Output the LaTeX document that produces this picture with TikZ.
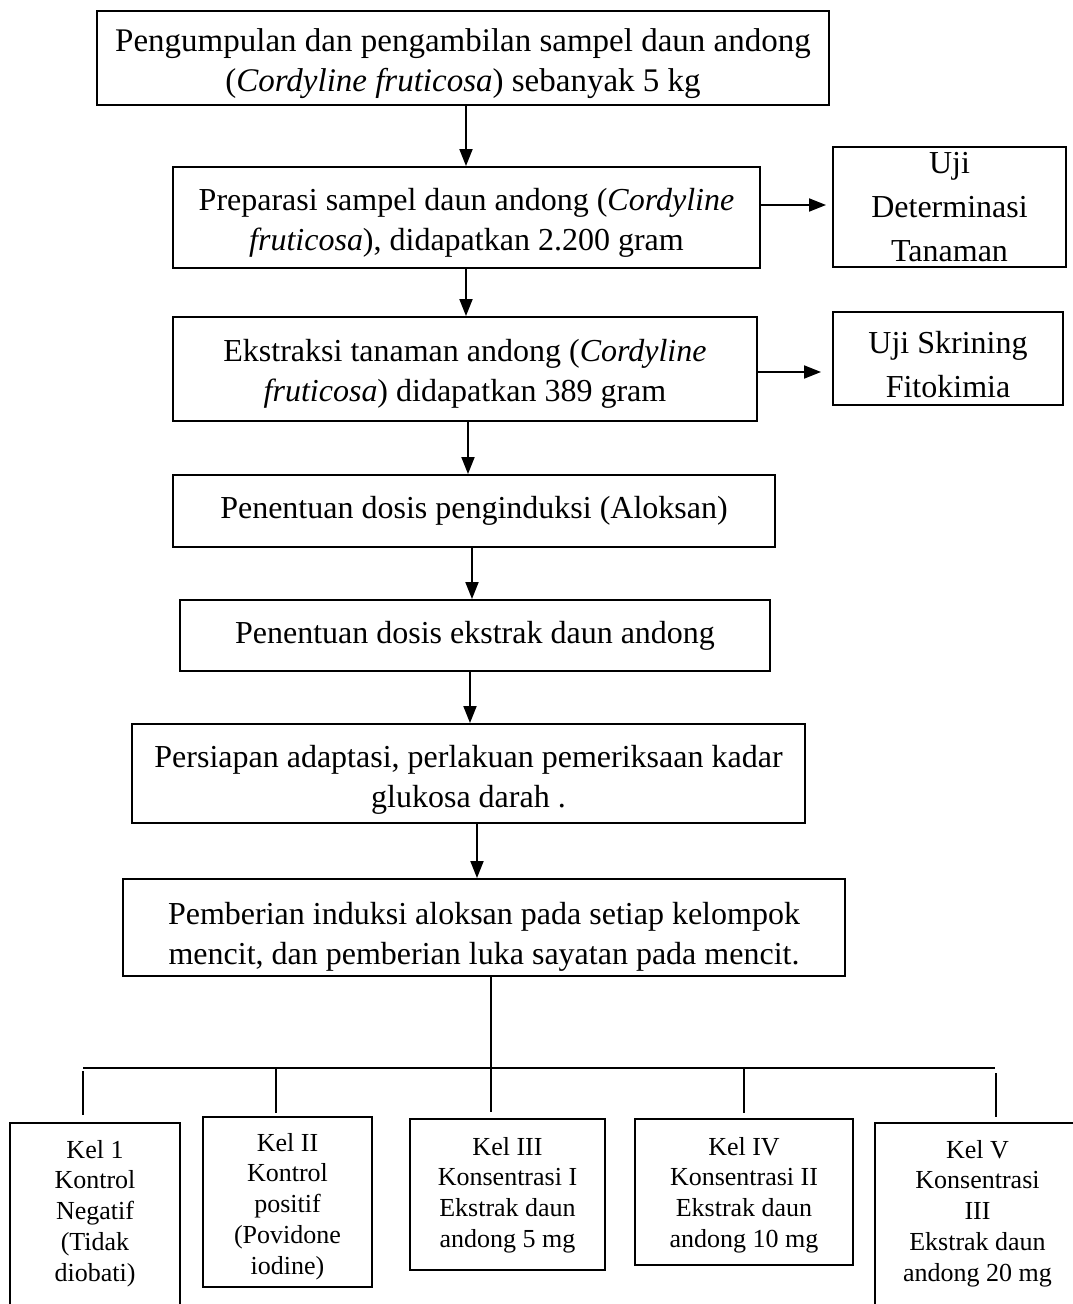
\documentclass[tikz,border=0pt]{standalone}
\usepackage{fontspec}
\setmainfont{Liberation Serif}
\usetikzlibrary{arrows.meta}

% extra room above a first line, to set the text lower in its box
\newcommand{\lift}[1][35pt]{\rule{0pt}{#1}}

\tikzset{
    stage/.style={draw, line width=2pt, align=center, inner sep=0pt,
        font=\fontsize{32}{40}\selectfont},
    side/.style={draw, line width=2pt, align=center, inner sep=0pt,
        font=\fontsize{32}{44}\selectfont},
    kelbox/.style={draw, line width=2pt, inner sep=0pt},
    keltext/.style={align=center, inner sep=0pt, anchor=north,
        font=\fontsize{26}{30.7}\selectfont},
    arr/.style={line width=2pt, -{Triangle[length=17pt,width=13pt]}},
    link/.style={line width=2pt}
}

\begin{document}
\begin{tikzpicture}[x=1pt, y=-1pt]
    \useasboundingbox (0,0) rectangle (1072,1304);

    % Main column
    \node[stage, minimum width=732, minimum height=94, font=\fontsize{33}{40}\selectfont] (collect) at (463,58)
        {\lift Pengumpulan dan pengambilan sampel daun andong\\(\textit{Cordyline fruticosa}) sebanyak 5 kg};
    \node[stage, minimum width=587, minimum height=101] (prep) at (466.5,217.5)
        {\lift[32pt]Preparasi sampel daun andong (\textit{Cordyline}\\\textit{fruticosa}), didapatkan 2.200 gram};
    \node[stage, minimum width=584, minimum height=104] (ekstrak) at (465,369)
        {\lift[32pt]Ekstraksi tanaman andong (\textit{Cordyline}\\\textit{fruticosa}) didapatkan 389 gram};
    \node[stage, minimum width=602, minimum height=72] (aloksan) at (474,511)
        {Penentuan dosis penginduksi (Aloksan)};
    \node[stage, minimum width=590, minimum height=71] (dosis) at (475,635.5)
        {Penentuan dosis ekstrak daun andong};
    \node[stage, minimum width=673, minimum height=99] (adapt) at (468.5,773.5)
        {\lift Persiapan adaptasi, perlakuan pemeriksaan kadar\\glukosa darah .};
    \node[stage, minimum width=722, minimum height=97] (induksi) at (484,927.5)
        {\lift[40pt]Pemberian induksi aloksan pada setiap kelompok\\mencit, dan pemberian luka sayatan pada mencit.};

    % Side tests
    \node[side, minimum width=233, minimum height=120] (determ) at (949.5,207)
        {Uji\\Determinasi\\Tanaman};
    \node[side, minimum width=230, minimum height=93] (skrining) at (948,358.5)
        {\lift Uji Skrining\\Fitokimia};

    % Arrow columns
    \coordinate (colA) at (466,0);
    \coordinate (colB) at (468,0);
    \coordinate (colC) at (472,0);
    \coordinate (colD) at (470,0);
    \coordinate (colE) at (477,0);
    \coordinate (colF) at (491,0);

    \draw[arr] (collect.south -| colA) -- (prep.north -| colA);
    \draw[arr] (prep.south -| colA) -- (ekstrak.north -| colA);
    \draw[arr] (ekstrak.south -| colB) -- (aloksan.north -| colB);
    \draw[arr] (aloksan.south -| colC) -- (dosis.north -| colC);
    \draw[arr] (dosis.south -| colD) -- (adapt.north -| colD);
    \draw[arr] (adapt.south -| colE) -- (induksi.north -| colE);

    \draw[arr, shorten >=6pt] ([yshift=12.5pt]prep.east) -- ([yshift=12.5pt]prep.east -| determ.west);
    \draw[arr, shorten >=11pt] ([yshift=-3pt]ekstrak.east) -- ([yshift=-3pt]ekstrak.east -| skrining.west);

    % Groups
    \node[kelbox, minimum width=170, minimum height=190, anchor=north] (kel1) at (95,1122) {};
    \node[kelbox, minimum width=169, minimum height=170, anchor=north] (kel2) at (287.5,1116) {};
    \node[kelbox, minimum width=195, minimum height=151, anchor=north] (kel3) at (507.5,1118) {};
    \node[kelbox, minimum width=218, minimum height=146, anchor=north] (kel4) at (744,1118) {};
    \node[kelbox, minimum width=205, minimum height=190, anchor=north] (kel5) at (977.5,1122) {};

    \node[keltext] (kel1t) at ([yshift=-18pt]kel1.north) {Kel 1\\Kontrol\\Negatif\\(Tidak\\diobati)};
    \node[keltext] (kel2t) at ([yshift=-17pt]kel2.north) {Kel II\\Kontrol\\positif\\(Povidone\\iodine)};
    \node[keltext] (kel3t) at ([yshift=-19pt]kel3.north) {Kel III\\Konsentrasi I\\Ekstrak daun\\andong 5 mg};
    \node[keltext] (kel4t) at ([yshift=-19pt]kel4.north) {Kel IV\\Konsentrasi II\\Ekstrak daun\\andong 10 mg};
    \node[keltext] (kel5t) at ([yshift=-18pt]kel5.north) {Kel V\\Konsentrasi\\III\\Ekstrak daun\\andong 20 mg};

    % Branch lines
    \coordinate (busL) at (83,1068);
    \coordinate (busR) at (995,1068);
    \draw[link] (induksi.south -| colF) -- (colF |- busL);
    \draw[link] (busL) -- (busR);
    \foreach \i/\x/\s/\e in {1/83/1071/1115, 2/276/1068/1113, 3/491/1068/1112, 4/744/1068/1113, 5/996/1073/1117} {
        \coordinate (drop\i) at (\x,\s);
        \coordinate (foot\i) at (\x,\e);
        \draw[link] (drop\i) -- (foot\i);
    }
\end{tikzpicture}
\end{document}
